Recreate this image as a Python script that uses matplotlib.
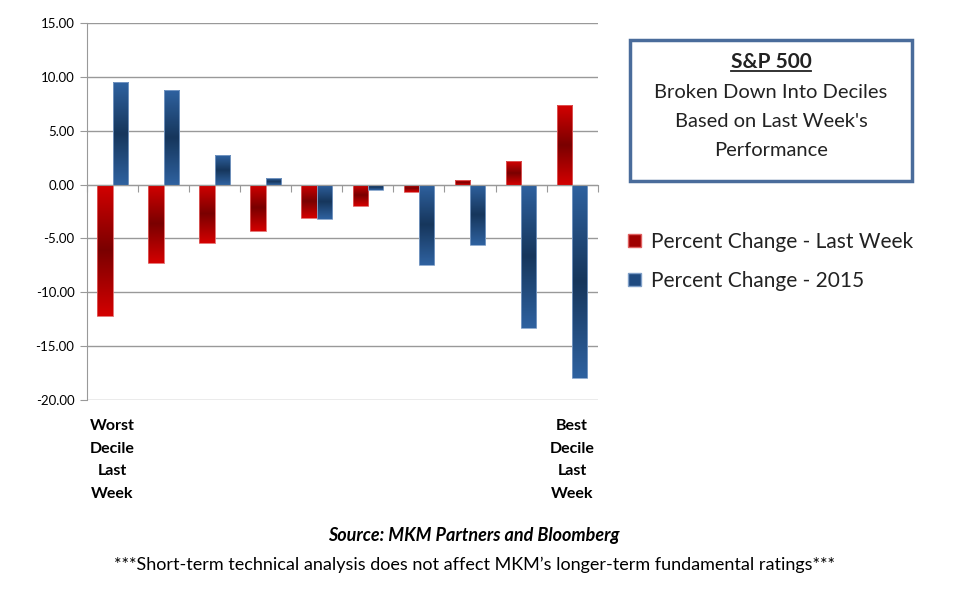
import numpy as np
import matplotlib
matplotlib.use("Agg")
import matplotlib.pyplot as plt
from matplotlib.patches import Rectangle, Patch
from matplotlib.colors import LinearSegmentedColormap
from matplotlib.lines import Line2D

# -- data --
deciles = np.arange(10)
last_week = [-12.2, -7.3, -5.4, -4.3, -3.1, -2.0, -0.7, 0.4, 2.2, 7.4]
ytd_2015 = [9.5, 8.8, 2.7, 0.6, -3.2, -0.5, -7.5, -5.6, -13.3, -18.0]
series_names = ["Percent Change - Last Week", "Percent Change - 2015"]
left_label = "Worst\nDecile\nLast\nWeek"
right_label = "Best\nDecile\nLast\nWeek"
y_ticks = [15, 10, 5, 0, -5, -10, -15, -20]

plt.rcParams['font.family'] = ['Lato', 'DejaVu Sans']

red_cmap = LinearSegmentedColormap.from_list("r", ["#d40000", "#7a0000", "#d40000"])
blue_cmap = LinearSegmentedColormap.from_list("b", ["#2f62a0", "#16365c", "#2f62a0"])


def gradient_bars(ax, bars, cmap):
    grad = np.linspace(0, 1, 256).reshape(-1, 1)
    for b in bars:
        x0, y0 = b.get_x(), b.get_y()
        w, h = b.get_width(), b.get_height()
        y_lo, y_hi = min(y0, y0 + h), max(y0, y0 + h)
        im = ax.imshow(grad, cmap=cmap, aspect='auto', origin='lower',
                       extent=[x0, x0 + w, y_lo, y_hi], zorder=3)
        im.set_clip_path(b)


def main():
    fig = plt.figure(figsize=(9.6, 6), dpi=100)
    ax = fig.add_axes([0.0906, 0.3333, 0.532, 0.6284])

    width = 0.3
    bars_r = ax.bar(deciles - width / 2, last_week, width, facecolor='none',
                    edgecolor='#e06060', linewidth=0.6, zorder=4)
    bars_b = ax.bar(deciles + width / 2, ytd_2015, width, facecolor='none',
                    edgecolor='#7f9fc8', linewidth=0.6, zorder=4)
    gradient_bars(ax, bars_r, red_cmap)
    gradient_bars(ax, bars_b, blue_cmap)

    ax.set_xlim(-0.5, 9.5)
    ax.set_ylim(-20, 15)
    ax.set_yticks(y_ticks)
    ax.set_yticklabels(["%.2f" % v for v in y_ticks], fontsize=9.5)
    ax.yaxis.grid(True, color='#999999', linewidth=1.0, zorder=0)
    ax.set_axisbelow(True)

    for s in ['top', 'right']:
        ax.spines[s].set_visible(False)
    ax.spines['left'].set_color('#999999')
    ax.spines['bottom'].set_color('#999999')
    ax.spines['bottom'].set_position(('data', 0))
    ax.spines['bottom'].set_zorder(5)
    ax.set_xticks(np.arange(-0.5, 10, 1))
    ax.set_xticklabels([])
    ax.tick_params(axis='x', direction='out', length=5, color='#999999')
    ax.tick_params(axis='y', direction='out', length=5, color='#999999', pad=4)

    ax.text(0, -21.75, left_label, ha='center', va='top', fontsize=11.5,
            fontweight='bold', linespacing=1.8)
    ax.text(9, -21.75, right_label, ha='center', va='top', fontsize=11.5,
            fontweight='bold', linespacing=1.8)

    # title box
    fig.patches.append(Rectangle((0.656, 0.698), 0.294, 0.235, transform=fig.transFigure,
                                 fill=False, edgecolor='#4a6c9b', linewidth=2.5))
    t = fig.text(0.803, 0.897, "S&P 500", ha='center', va='center', fontsize=15,
                 fontweight='bold', color='#222222')
    fig.text(0.803, 0.797, "Broken Down Into Deciles\nBased on Last Week's\nPerformance",
             ha='center', va='center', fontsize=14.5, color='#222222', linespacing=1.85)
    fig.canvas.draw()
    bb = t.get_window_extent().transformed(fig.transFigure.inverted())
    fig.lines.append(Line2D([bb.x0, bb.x1], [bb.y0 + 0.002, bb.y0 + 0.002],
                            transform=fig.transFigure, color='#222222', linewidth=1.3))

    # legend
    handles = [Patch(facecolor='#a00000', edgecolor='#e06060'),
               Patch(facecolor='#1f4a80', edgecolor='#7f9fc8')]
    fig.legend(handles, series_names, loc='upper left', bbox_to_anchor=(0.635, 0.645),
               frameon=False, fontsize=15, handlelength=0.6, handleheight=0.6,
               handletextpad=0.5, labelspacing=0.9, labelcolor='#222222')

    fig.text(0.494, 0.108, "Source: MKM Partners and Bloomberg", ha='center', va='center',
             fontsize=13, fontweight='bold', fontstyle='italic')
    fig.text(0.494, 0.059,
             "***Short-term technical analysis does not affect MKM\u2019s longer-term fundamental ratings***",
             ha='center', va='center', fontsize=13)

    fig.savefig("out.png", dpi=100)


if __name__ == "__main__":
    main()
